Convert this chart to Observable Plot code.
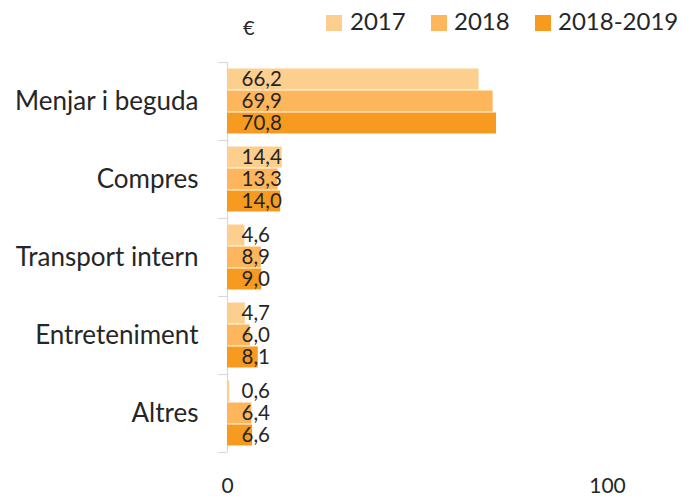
<!DOCTYPE html>
<html>
<head>
<meta charset="utf-8">
<script src="https://cdn.jsdelivr.net/npm/d3@7"></script>
<script src="https://cdn.jsdelivr.net/npm/@observablehq/plot@0.6"></script>
<style>
  html, body { margin: 0; padding: 0; background: #fff; }
  #wrap { position: relative; width: 683px; height: 496px; font-family: Lato, sans-serif; color: #262626; }
  #legend { position: absolute; left: 0; top: 0; width: 683px; height: 50px; }
  .sw { position: absolute; top: 15px; width: 16px; height: 16px; }
  .lt { position: absolute; top: 4px; font-size: 24px; line-height: 34px; }
  #euro { position: absolute; left: 243px; top: 12px; font-size: 20px; line-height: 30px; }
  #chart { position: absolute; left: 0; top: 50px; }
</style>
</head>
<body>
<div id="wrap">
  <div id="legend"></div>
  <div id="chart"></div>
</div>
<script>
const categories = ["Menjar i beguda", "Compres", "Transport intern", "Entreteniment", "Altres"];
const series = ["2017", "2018", "2018-2019"];
const values2017 = [66.2, 14.4, 4.6, 4.7, 0.6];
const values2018 = [69.9, 13.3, 8.9, 6.0, 6.4];
const values20182019 = [70.8, 14.0, 9.0, 8.1, 6.6];
const colors = ["#FDCF8E", "#FDB65B", "#F79B20"];
const xTicks = [0, 100];

const allValues = [values2017, values2018, values20182019];
const fmt = d => d.toFixed(1).replace(".", ",");

const bandH = 78, pad = 6, barH = 22;
const marks = [];
marks.push(Plot.ruleX([0], {stroke: "#d9d9d9", strokeWidth: 1.2}));
allValues.forEach((vals, i) => {
  const data = categories.map((c, j) => ({cat: c, value: vals[j]}));
  marks.push(Plot.barX(data, {
    y: "cat", x: "value", fill: colors[i],
    insetTop: pad + barH * i + 0.5,
    insetBottom: bandH - pad - barH * (i + 1) + 0.5
  }));
  marks.push(Plot.text(data, {
    y: "cat", x: 0, text: d => fmt(d.value),
    textAnchor: "start", dx: 14, dy: -22 + 22 * i,
    fill: "#262626", fontSize: 20.5
  }));
});
marks.push(Plot.ruleY(categories, {y: d => d, x1: -2.3, x2: 0, dy: -39, stroke: "#d9d9d9", strokeWidth: 1.2}));
marks.push(Plot.ruleY([categories[categories.length - 1]], {y: d => d, x1: -2.3, x2: 0, dy: 39, stroke: "#d9d9d9", strokeWidth: 1.2}));
marks.push(Plot.axisY({tickSize: 0, tickPadding: 29, fontSize: 26, label: null}));
marks.push(Plot.axisX({ticks: xTicks, tickSize: 0, tickPadding: 26, fontSize: 21, label: null, tickFormat: d => String(d)}));

const chart = Plot.plot({
  width: 683,
  height: 446,
  marginLeft: 227,
  marginRight: 76,
  marginTop: 12,
  marginBottom: 44,
  x: {domain: [0, 100]},
  y: {domain: categories, padding: 0},
  style: {fontFamily: "Lato, sans-serif", color: "#262626", background: "#fff"},
  marks
});
document.getElementById("chart").appendChild(chart);

const legend = document.getElementById("legend");
const euro = document.createElement("div");
euro.id = "euro"; euro.textContent = "€";
legend.appendChild(euro);
const swX = [326, 431, 535];
const txX = [350, 454, 558];
series.forEach((s, i) => {
  const sw = document.createElement("div");
  sw.className = "sw"; sw.style.left = swX[i] + "px"; sw.style.background = colors[i];
  legend.appendChild(sw);
  const t = document.createElement("div");
  t.className = "lt"; t.style.left = txX[i] + "px"; t.textContent = s;
  legend.appendChild(t);
});
</script>
</body>
</html>
